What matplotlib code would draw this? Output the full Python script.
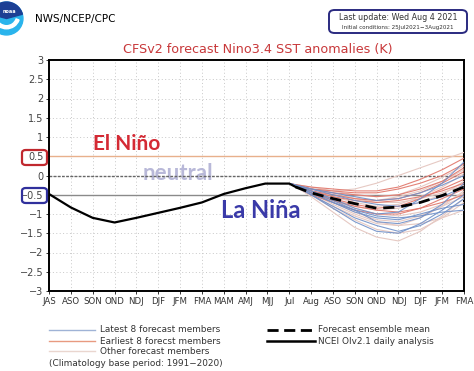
import matplotlib
matplotlib.use("Agg")
import matplotlib.pyplot as plt
from matplotlib.patches import FancyBboxPatch, Circle, Wedge
import numpy as np

W, H = 474, 371

# ---------------- data ----------------
xlabels = ["JAS", "ASO", "SON", "OND", "NDJ", "DJF", "JFM", "FMA", "MAM", "AMJ",
           "MJJ", "Jul", "Aug", "ASO", "SON", "OND", "NDJ", "DJF", "JFM", "FMA"]

obs_x = [0, 1, 2, 3, 4, 5, 6, 7, 8, 9, 9.9, 11, 11.3]
obs_y = [-0.48, -0.83, -1.1, -1.22, -1.1, -0.97, -0.84, -0.7, -0.48, -0.33, -0.21, -0.21, -0.3]

mem_x = [11.1, 12, 13, 14, 15, 16, 17, 18, 19]

latest_members = [
    [-0.22, -0.45, -0.7, -0.95, -1.1, -1.15, -1.0, -0.85, -0.75],
    [-0.22, -0.5, -0.8, -1.1, -1.3, -1.45, -1.3, -1.0, -0.6],
    [-0.22, -0.4, -0.6, -0.85, -1.0, -0.95, -0.6, -0.2, 0.35],
    [-0.22, -0.35, -0.5, -0.65, -0.75, -0.8, -0.7, -0.55, -0.3],
    [-0.22, -0.5, -0.85, -1.2, -1.45, -1.5, -1.25, -0.9, -0.5],
    [-0.22, -0.45, -0.7, -0.9, -1.05, -1.1, -1.05, -0.95, -0.9],
    [-0.22, -0.35, -0.45, -0.55, -0.65, -0.6, -0.45, -0.25, 0.0],
    [-0.22, -0.4, -0.65, -0.9, -1.2, -1.25, -1.1, -0.75, -0.2],
]

earliest_members = [
    [-0.22, -0.35, -0.4, -0.45, -0.45, -0.35, -0.2, 0.0, 0.3],
    [-0.22, -0.4, -0.5, -0.6, -0.65, -0.6, -0.45, -0.2, 0.1],
    [-0.22, -0.3, -0.35, -0.4, -0.4, -0.3, -0.1, 0.15, 0.45],
    [-0.22, -0.45, -0.6, -0.75, -0.85, -0.8, -0.6, -0.35, -0.1],
    [-0.22, -0.4, -0.55, -0.65, -0.7, -0.65, -0.55, -0.4, -0.2],
    [-0.22, -0.5, -0.7, -0.9, -1.0, -1.0, -0.85, -0.6, -0.35],
    [-0.22, -0.35, -0.45, -0.5, -0.55, -0.5, -0.35, -0.15, 0.2],
    [-0.22, -0.45, -0.65, -0.8, -0.9, -0.95, -0.85, -0.7, -0.5],
]

other_members = [
    [-0.22, -0.35, -0.4, -0.35, -0.2, 0.0, 0.2, 0.4, 0.6],
    [-0.22, -0.55, -0.95, -1.35, -1.6, -1.7, -1.45, -1.05, -0.6],
    [-0.22, -0.5, -0.8, -1.05, -1.25, -1.3, -1.1, -0.8, -0.4],
    [-0.22, -0.4, -0.55, -0.7, -0.8, -0.75, -0.55, -0.3, 0.05],
    [-0.22, -0.45, -0.7, -0.95, -1.15, -1.2, -1.05, -0.8, -0.55],
    [-0.22, -0.3, -0.4, -0.5, -0.55, -0.5, -0.3, -0.05, 0.25],
    [-0.22, -0.45, -0.75, -1.0, -1.2, -1.3, -1.25, -1.1, -0.9],
    [-0.22, -0.35, -0.5, -0.6, -0.7, -0.7, -0.6, -0.45, -0.25],
    [-0.22, -0.5, -0.85, -1.15, -1.4, -1.5, -1.4, -1.1, -0.7],
    [-0.22, -0.4, -0.6, -0.8, -0.9, -0.85, -0.7, -0.5, -0.15],
    [-0.22, -0.35, -0.45, -0.6, -0.65, -0.55, -0.4, -0.15, 0.15],
    [-0.22, -0.45, -0.65, -0.85, -1.0, -1.05, -0.95, -0.75, -0.45],
]

mean_x = [11.3, 12, 13, 14, 15, 16, 17, 18, 19]
mean_y = [-0.3, -0.45, -0.6, -0.73, -0.85, -0.82, -0.7, -0.52, -0.3]

yticks = [3, 2.5, 2, 1.5, 1, 0.5, 0, -0.5, -1, -1.5, -2, -2.5, -3]
ytick_labels = ["3", "2.5", "2", "1.5", "1", "0.5", "0", "\u22120.5", "\u22121",
                "\u22121.5", "\u22122", "\u22122.5", "\u22123"]

# ---------------- figure ----------------
fig = plt.figure(figsize=(W / 100, H / 100), dpi=100)
fig.patch.set_facecolor("white")

def fx(px):
    return px / W

def fy(py):
    return 1 - py / H

ax_l, ax_r, ax_t, ax_b = 49, 464, 60, 291
ax = fig.add_axes([fx(ax_l), fy(ax_b), fx(ax_r) - fx(ax_l), fy(ax_t) - fy(ax_b)])
ax.set_xlim(0, len(xlabels) - 1)
ax.set_ylim(-3, 3)

# grid
for i in range(len(xlabels)):
    ax.axvline(i, color="#c8c8c8", lw=0.7, ls=(0, (1, 2.5)), zorder=0)
for v in yticks:
    ax.axhline(v, color="#c8c8c8", lw=0.7, ls=(0, (1, 2.5)), zorder=0)

# annotations (under lines)
ax.text(3.55, 0.82, "El Ni\u00f1o", color="#d42a34", fontsize=15, fontweight="bold",
        family="Lato", ha="center", va="center", zorder=1)
ax.text(5.9, 0.05, "neutral", color="#b8b8d8", fontsize=16, fontweight="bold",
        family="Lato", ha="center", va="center", zorder=1)
ax.text(9.7, -0.9, "La Ni\u00f1a", color="#3a3aa8", fontsize=17, fontweight="bold",
        family="Lato", ha="center", va="center", zorder=1)

# reference lines
ax.axhline(0.5, color="#e8b08c", lw=1.0, zorder=2)
ax.axhline(0.0, color="#666666", lw=1.0, ls=(0, (2, 1)), zorder=2)
ax.axhline(-0.5, color="#8a8a8a", lw=1.0, zorder=2)

# members
for m in other_members:
    ax.plot(mem_x, m, color="#e6c9c3", lw=0.8, zorder=3)
for m in earliest_members:
    ax.plot(mem_x, m, color="#e07468", lw=0.8, alpha=0.9, zorder=4)
for m in latest_members:
    ax.plot(mem_x, m, color="#7090c8", lw=0.8, alpha=0.9, zorder=4)

ax.plot(mean_x, mean_y, color="black", lw=2.0, ls=(0, (4, 2.5)), zorder=6)
ax.plot(obs_x, obs_y, color="black", lw=1.6, zorder=6)

ax.set_xticks(range(len(xlabels)))
ax.set_xticklabels(xlabels, fontsize=6.2, color="#333333")
ax.set_yticks(yticks)
ax.set_yticklabels(ytick_labels, fontsize=7, color="#444444")
ax.tick_params(axis="both", length=2.5, width=0.7, color="#333333", pad=1.5)
for s in ax.spines.values():
    s.set_linewidth(1.4)
    s.set_color("black")

# boxes around 0.5 and -0.5 labels
fig.patches.append(FancyBboxPatch((fx(22), fy(165)), fx(47) - fx(22), fy(150) - fy(165),
                                  boxstyle="round,pad=0,rounding_size=0.008",
                                  transform=fig.transFigure, fill=False,
                                  ec="#c0282e", lw=1.6))
fig.patches.append(FancyBboxPatch((fx(22), fy(203)), fx(47) - fx(22), fy(188) - fy(203),
                                  boxstyle="round,pad=0,rounding_size=0.008",
                                  transform=fig.transFigure, fill=False,
                                  ec="#30309c", lw=1.6))

# header: logo
lax = fig.add_axes([fx(-12), fy(37), fx(37) - fx(0), fy(0) - fy(37)])
lax.set_xlim(-18, 18)
lax.set_ylim(-18, 18)
lax.set_aspect("equal")
lax.axis("off")
lax.add_patch(Circle((0, 0), 16, color="#2ab4ec"))
lax.add_patch(Wedge((0, 0), 16, 15, 165, color="#1c3f94"))
lax.add_patch(Wedge((0, 3), 13, 200, 340, color="white", width=3))
lax.text(3, 7, "noaa", color="white", fontsize=3.5, ha="center", va="center", fontweight="bold")

fig.text(fx(35), fy(19), "NWS/NCEP/CPC", fontsize=7.5, color="black", ha="left", va="center")

# update box
fig.patches.append(FancyBboxPatch((fx(329), fy(33)), fx(467) - fx(329), fy(10) - fy(33),
                                  boxstyle="round,pad=0,rounding_size=0.012",
                                  transform=fig.transFigure, fill=False,
                                  ec="#2a2a80", lw=1.4))
fig.text(fx(398), fy(17), "Last update: Wed Aug 4 2021", fontsize=5.8, color="#333333",
         ha="center", va="center")
fig.text(fx(398), fy(27), "Initial conditions: 25Jul2021\u22123Aug2021", fontsize=4.1,
         color="#333333", ha="center", va="center")

# title
fig.text(fx(258), fy(50), "CFSv2 forecast Nino3.4 SST anomalies (K)", fontsize=9.2,
         color="#c8383a", ha="center", va="center")

# legend
lc = "#333333"
fs = 6.4
def leg_line(x0, x1, y, **kw):
    fig.add_artist(plt.Line2D([fx(x0), fx(x1)], [fy(y), fy(y)], transform=fig.transFigure, **kw))

leg_line(49, 95, 330, color="#9fb3d6", lw=1.0)
fig.text(fx(100), fy(330), "Latest 8 forecast members", fontsize=fs, color=lc, va="center")
leg_line(49, 95, 341, color="#e89a80", lw=1.0)
fig.text(fx(100), fy(341), "Earliest 8 forecst members", fontsize=fs, color=lc, va="center")
leg_line(49, 95, 351, color="#ead6cf", lw=1.0)
fig.text(fx(100), fy(351), "Other forecast members", fontsize=fs, color=lc, va="center")
fig.text(fx(49), fy(364), "(Climatology base period: 1991\u22122020)", fontsize=fs, color=lc, va="center")

leg_line(267, 315, 330, color="black", lw=2.0, ls=(0, (4, 2)))
fig.text(fx(318), fy(330), "Forecast ensemble mean", fontsize=fs, color=lc, va="center")
leg_line(267, 315, 341, color="black", lw=1.8)
fig.text(fx(318), fy(341), "NCEI OIv2.1 daily analysis", fontsize=fs, color=lc, va="center")

fig.savefig("out.png", dpi=100)
